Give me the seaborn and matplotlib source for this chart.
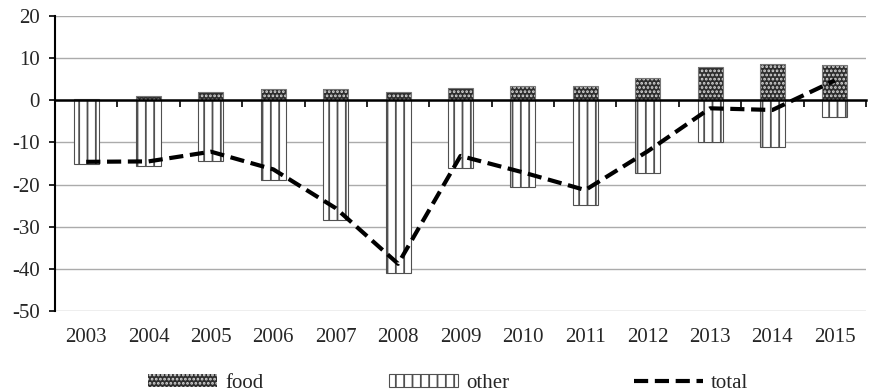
import numpy as np
import pandas as pd
import matplotlib
matplotlib.use("Agg")
import matplotlib.pyplot as plt
import seaborn as sns
from matplotlib.patches import Patch
from matplotlib.lines import Line2D

years = ["2003", "2004", "2005", "2006", "2007", "2008", "2009",
         "2010", "2011", "2012", "2013", "2014", "2015"]
food = [0.4, 0.9, 2.0, 2.6, 2.6, 1.9, 2.9, 3.4, 3.5, 5.2, 8.0, 8.7, 8.4]
other = [-15.1, -15.6, -14.4, -18.9, -28.3, -40.9, -16.0, -20.6, -24.9, -17.3, -10.0, -11.1, -3.9]
total = [-14.6, -14.5, -12.2, -16.4, -25.6, -38.8, -13.2, -17.1, -21.3, -12.1, -1.9, -2.3, 4.7]
yticks = [20, 10, 0, -10, -20, -30, -40, -50]

sns.set_style("white")
plt.rcParams["font.family"] = ["Liberation Serif", "DejaVu Serif"]
plt.rcParams["hatch.linewidth"] = 1.3

df = pd.DataFrame({"year": years, "food": food, "other": other, "total": total})

fig = plt.figure(figsize=(8.69, 3.92), dpi=100)
ax = fig.add_axes([55 / 869, 1 - 311 / 392, 811 / 869, 295 / 392])

FS = 15
DASH = (0, (3.4, 1.6))

# other (negative) bars
sns.barplot(data=df, x="year", y="other", ax=ax, color="white", width=0.4,
            edgecolor="#505050", linewidth=0.8, hatch="||", saturation=1)
# food (positive) bars: dotted fill, then outline
sns.barplot(data=df, x="year", y="food", ax=ax, color="#2e2e2e", width=0.4,
            edgecolor="#d8d8d8", linewidth=0, hatch="....", saturation=1)
sns.barplot(data=df, x="year", y="food", ax=ax, fill=False, width=0.4,
            edgecolor="#777777", linewidth=0.8)

sns.lineplot(x=np.arange(len(years)), y=df["total"], ax=ax, color="black",
             linewidth=3, dashes=False, linestyle=DASH)

ax.set_xlim(-0.5, len(years) - 0.5)
ax.set_ylim(-50, 20)
ax.set_yticks(yticks)
ax.set_yticklabels([str(v) for v in yticks], fontsize=FS)
ax.yaxis.grid(True, color="#ababab", linewidth=1.0)
ax.set_axisbelow(True)
ax.set_xlabel("")
ax.set_ylabel("")

for s in ["top", "right"]:
    ax.spines[s].set_visible(False)
ax.spines["left"].set_color("black")
ax.spines["left"].set_linewidth(1.5)
ax.spines["bottom"].set_position(("data", 0))
ax.spines["bottom"].set_color("black")
ax.spines["bottom"].set_linewidth(1.8)
ax.spines["bottom"].set_zorder(5)

ax.tick_params(axis="y", which="major", direction="out", length=4, width=1.2,
               color="black", left=True, pad=7)
ax.set_xticks(np.arange(len(years) + 1) - 0.5)
ax.tick_params(axis="x", which="major", direction="out", length=5, width=1.2,
               color="black", bottom=True, labelbottom=False)

sec = ax.secondary_xaxis("bottom")
sec.set_xticks(np.arange(len(years)))
sec.set_xticklabels(years, fontsize=FS)
sec.tick_params(length=0, pad=12)
sec.spines["bottom"].set_visible(False)

handles = [
    Patch(facecolor="#2e2e2e", edgecolor="#d8d8d8", hatch="....", linewidth=0),
    Patch(facecolor="white", edgecolor="#505050", hatch="||", linewidth=0.8),
    Line2D([0], [0], color="black", linewidth=3, linestyle=DASH),
]
fig.legend(handles, ["food", "other", "total"], loc="lower center",
           bbox_to_anchor=(0.516, -0.05), ncol=3, frameon=False, fontsize=FS,
           handlelength=3.3, handleheight=0.6, columnspacing=6.0, handletextpad=0.4)

fig.savefig("out.png", dpi=100)
